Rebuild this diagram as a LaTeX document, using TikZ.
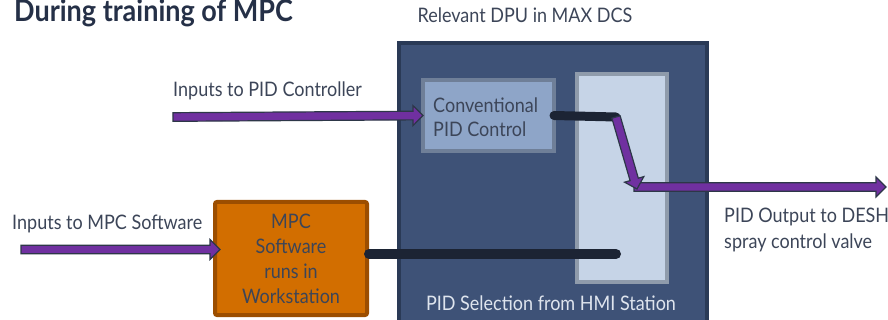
\documentclass[tikz,border=0pt]{standalone}
\usepackage{fontspec}
\setmainfont{Lato}[FakeStretch=0.9]
\usetikzlibrary{calc}

\definecolor{titleink}{HTML}{253047}
\definecolor{labelink}{HTML}{3C4558}
\definecolor{dpufill}{HTML}{3E5277}
\definecolor{dpuedge}{HTML}{2A3A56}
\definecolor{pidfill}{HTML}{8EA5C8}
\definecolor{pidedge}{HTML}{6F7F98}
\definecolor{selfill}{HTML}{C6D4E7}
\definecolor{seledge}{HTML}{8F9BAB}
\definecolor{mpcfill}{HTML}{D26E00}
\definecolor{mpcedge}{HTML}{9C4E00}
\definecolor{flowfill}{HTML}{7030A0}
\definecolor{flowedge}{HTML}{2D3748}
\definecolor{barink}{HTML}{1C2434}
\definecolor{paleink}{HTML}{DFE5EE}

% block arrow geometry
\def\arrShaft{4.3pt}
\def\arrHead{10pt}
\def\arrLen{10pt}
% filled block arrow from #1 to #2 (tip at #2)
\newcommand\flowarrow[2]{%
  \filldraw[flow]
    ($(#1)!\arrShaft!-90:(#2)$) --
    ($(#2)!\arrLen!(#1)!\arrShaft!90:(#1)$) --
    ($(#2)!\arrLen!(#1)!\arrHead!90:(#1)$) --
    (#2) --
    ($(#2)!\arrLen!(#1)!\arrHead!-90:(#1)$) --
    ($(#2)!\arrLen!(#1)!\arrShaft!-90:(#1)$) --
    ($(#1)!\arrShaft!90:(#2)$) -- cycle;}

\tikzset{
  lbl/.style={text=labelink, font=\fontsize{20}{25}\selectfont, inner sep=0pt},
  flow/.style={fill=flowfill, draw=flowedge, line width=1.2pt},
  bar/.style={draw=barink, line width=9pt, line cap=round},
  dpu/.style={draw=dpuedge, fill=dpufill, line width=4pt, inner sep=0pt},
  pidbox/.style={draw=pidedge, fill=pidfill, line width=4pt, inner sep=0pt},
  selbox/.style={draw=seledge, fill=selfill, line width=4pt, inner sep=0pt},
  mpcbox/.style={draw=mpcedge, fill=mpcfill, line width=4pt, inner sep=0pt,
    rounded corners=2pt},
}

\begin{document}
\begin{tikzpicture}[x=1pt, y=-1pt]
\useasboundingbox (0,0) rectangle (888,320);
\clip (0,0) rectangle (888,320);

% title
\node[anchor=base west, inner sep=0pt, text=titleink,
      font=\fontsize{30}{32}\selectfont\bfseries] (title) at (14,22)
  {During training of MPC};

% DPU frame and its inner blocks
\node[anchor=base, lbl] (dpulabel) at (525,23) {Relevant DPU in MAX DCS};
\node[dpu, minimum width=308pt, minimum height=285pt] (dpu) at (553,185.5) {};
\node[selbox, minimum width=90pt, minimum height=208pt] (sel) at (622,178) {};
\node[pidbox, minimum width=131pt, minimum height=71pt] (pid) at (488.5,115.5) {};
\node[lbl, anchor=west, align=left, font=\fontsize{20}{24}\selectfont] (pidtext)
  at (433,117) {Conventional\\PID Control};
\node[anchor=base, lbl, text=paleink] (sellabel) at (551,310)
  {PID Selection from HMI Station};

% MPC workstation
\node[mpcbox, minimum width=152pt, minimum height=113pt] (mpc) at (291,258.5) {};
\node[lbl, align=center] (mpctext) at (291,259)
  {MPC\\Software\\runs in\\Workstation};

% signal bars
\coordinate (pidbarend) at (616,117);
\coordinate (mpcbarend) at (616,254);
\draw[bar] ($(pid.east)+(-2,0)$) -- (pidbarend);
\draw[bar, line width=10pt] ($(mpc.east)+(0,-4.5)$) -- (mpcbarend);

% inputs
\node[anchor=base west, lbl] (pidin) at (173,97) {Inputs to PID Controller};
\node[anchor=base west, lbl] (mpcin) at (12,230) {Inputs to MPC Software};
\coordinate (pidsrc) at (173,117);
\coordinate (mpcsrc) at (21,249.5);
\flowarrow{pidsrc}{$(pid.west)+(2,0)$}
\flowarrow{mpcsrc}{$(mpc.west |- mpcsrc)+(7,0)$}

% output to the spray valve
\coordinate (bend) at (634,187);
\coordinate (valve) at (886,187);
\coordinate (drop) at (637,189);
\flowarrow{bend}{valve}
\flowarrow{pidbarend}{drop}
\node[anchor=base west, lbl, align=left] (outlabel) at (724,248)
  {PID Output to DESH\\spray control valve};
\end{tikzpicture}
\end{document}
